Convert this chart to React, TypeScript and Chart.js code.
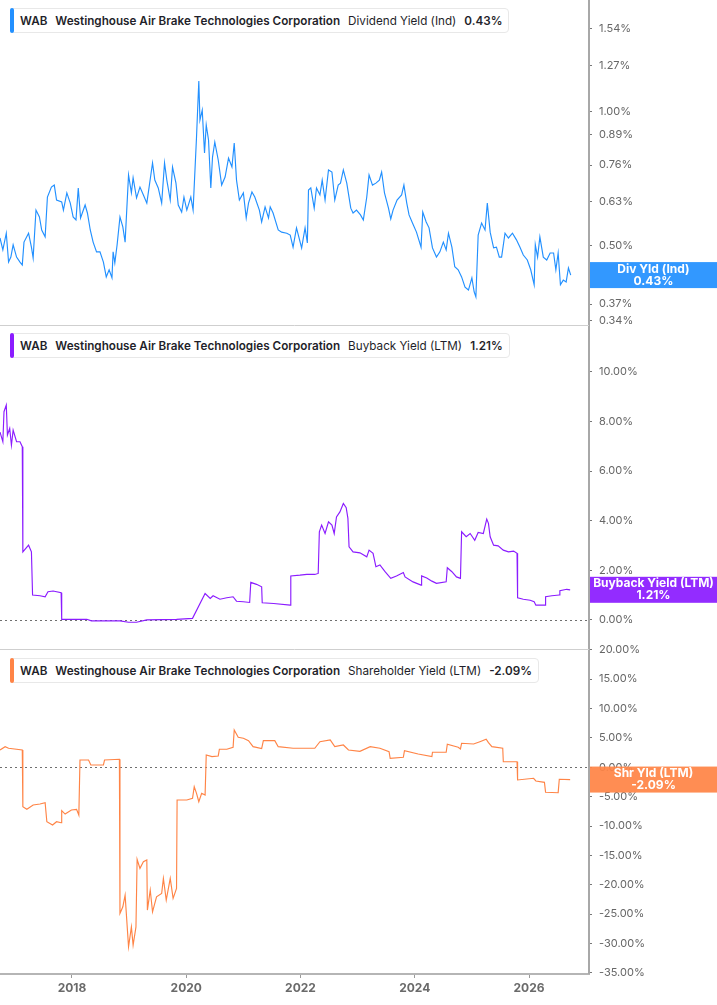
import { useEffect, useRef } from 'react';
import { Chart, registerables } from 'chart.js';

Chart.register(...registerables);
Chart.defaults.font.family = 'Inter, "Noto Sans", sans-serif';

// x axis (decimal years)
const xMin = 2016.74;
const xMax = 2027.05;
const yearTicks = [2018, 2020, 2022, 2024, 2026];

// Dividend yield (Ind), log scale
const divTicks = [0.34, 0.37, 0.5, 0.63, 0.76, 0.89, 1.0, 1.27, 1.54];
const divDates = [
  2016.74, 2016.79, 2016.85, 2016.89, 2016.93, 2016.97, 2017.03, 2017.09, 2017.13, 2017.16,
  2017.24, 2017.29, 2017.32, 2017.37, 2017.43, 2017.47, 2017.53, 2017.57, 2017.64, 2017.69,
  2017.73, 2017.82, 2017.85, 2017.91, 2017.97, 2018.02, 2018.07, 2018.11, 2018.15, 2018.23,
  2018.27, 2018.32, 2018.37, 2018.43, 2018.49, 2018.55, 2018.6, 2018.65, 2018.7, 2018.72,
  2018.75, 2018.79, 2018.84, 2018.89, 2018.93, 2018.99, 2019.04, 2019.07, 2019.13, 2019.19,
  2019.25, 2019.31, 2019.35, 2019.41, 2019.45, 2019.51, 2019.57, 2019.62, 2019.66, 2019.72,
  2019.76, 2019.82, 2019.86, 2019.92, 2019.96, 2020.01, 2020.08, 2020.12, 2020.18, 2020.22,
  2020.24, 2020.28, 2020.32, 2020.35, 2020.39, 2020.43, 2020.46, 2020.5, 2020.56, 2020.62,
  2020.68, 2020.74, 2020.8, 2020.84, 2020.88, 2020.93, 2021.0, 2021.05, 2021.09, 2021.15,
  2021.2, 2021.28, 2021.32, 2021.38, 2021.44, 2021.47, 2021.52, 2021.61, 2021.67, 2021.76,
  2021.82, 2021.87, 2021.93, 2022.02, 2022.08, 2022.12, 2022.14, 2022.18, 2022.24, 2022.28,
  2022.34, 2022.38, 2022.43, 2022.49, 2022.55, 2022.6, 2022.66, 2022.7, 2022.75, 2022.81,
  2022.88, 2022.92, 2022.98, 2023.05, 2023.1, 2023.16, 2023.2, 2023.26, 2023.32, 2023.38,
  2023.42, 2023.47, 2023.54, 2023.58, 2023.62, 2023.69, 2023.77, 2023.81, 2023.86, 2023.9,
  2023.96, 2024.03, 2024.11, 2024.14, 2024.2, 2024.25, 2024.31, 2024.38, 2024.44, 2024.5,
  2024.55, 2024.59, 2024.65, 2024.7, 2024.76, 2024.82, 2024.88, 2024.94, 2025.0, 2025.04,
  2025.07, 2025.11, 2025.17, 2025.23, 2025.27, 2025.32, 2025.38, 2025.43, 2025.48, 2025.52,
  2025.58, 2025.64, 2025.71, 2025.78, 2025.84, 2025.9, 2025.97, 2026.03, 2026.09, 2026.11,
  2026.15, 2026.19, 2026.25, 2026.31, 2026.37, 2026.43, 2026.47, 2026.51, 2026.55, 2026.6,
  2026.65, 2026.69, 2026.73,
];
const divValues = [
  0.521, 0.49, 0.534, 0.46, 0.472, 0.503, 0.472, 0.46, 0.453, 0.51,
  0.534, 0.497, 0.47, 0.602, 0.581, 0.543, 0.524, 0.644, 0.678, 0.685,
  0.634, 0.628, 0.602, 0.658, 0.624, 0.581, 0.572, 0.675, 0.578, 0.618,
  0.593, 0.543, 0.51, 0.485, 0.485, 0.46, 0.426, 0.442, 0.424, 0.485,
  0.458, 0.503, 0.581, 0.552, 0.51, 0.722, 0.658, 0.711, 0.641, 0.678,
  0.651, 0.624, 0.678, 0.768, 0.703, 0.675, 0.624, 0.768, 0.703, 0.634,
  0.752, 0.692, 0.618, 0.596, 0.644, 0.602, 0.644, 0.602, 0.879, 1.174,
  0.959, 1.01, 0.809, 0.935, 0.865, 0.675, 0.792, 0.856, 0.78, 0.685,
  0.714, 0.788, 0.752, 0.852, 0.703, 0.634, 0.658, 0.578, 0.624, 0.661,
  0.644, 0.602, 0.566, 0.612, 0.578, 0.612, 0.593, 0.543, 0.537, 0.534,
  0.529, 0.497, 0.549, 0.495, 0.549, 0.508, 0.668, 0.675, 0.608, 0.675,
  0.651, 0.703, 0.634, 0.741, 0.733, 0.634, 0.685, 0.692, 0.741, 0.692,
  0.608, 0.593, 0.602, 0.587, 0.572, 0.644, 0.722, 0.685, 0.692, 0.703,
  0.733, 0.658, 0.608, 0.575, 0.602, 0.634, 0.651, 0.685, 0.624, 0.587,
  0.563, 0.537, 0.497, 0.596, 0.566, 0.549, 0.495, 0.472, 0.485, 0.51,
  0.49, 0.534, 0.497, 0.449, 0.442, 0.426, 0.404, 0.398, 0.424, 0.394,
  0.384, 0.529, 0.563, 0.543, 0.624, 0.537, 0.495, 0.497, 0.472, 0.472,
  0.534, 0.521, 0.534, 0.516, 0.497, 0.477, 0.465, 0.442, 0.409, 0.503,
  0.472, 0.524, 0.472, 0.465, 0.482, 0.482, 0.442, 0.482, 0.409, 0.419,
  0.415, 0.446, 0.43,
];

// Buyback yield (LTM)
const buybackTicks = [0, 2, 4, 6, 8, 10];
const buybackDates = [
  2016.74, 2016.79, 2016.81, 2016.85, 2016.87, 2016.91, 2016.94, 2016.97, 2017.03, 2017.09,
  2017.13, 2017.14, 2017.24, 2017.29, 2017.31, 2017.44, 2017.53, 2017.58, 2017.67, 2017.81,
  2017.82, 2018.26, 2018.34, 2018.84, 2018.99, 2019.13, 2019.31, 2019.83, 2020.11, 2020.33,
  2020.42, 2020.47, 2020.59, 2020.71, 2020.82, 2020.88, 2021.0, 2021.11, 2021.13, 2021.23,
  2021.32, 2021.33, 2021.53, 2021.82, 2021.83, 2021.99, 2022.11, 2022.25, 2022.31, 2022.33,
  2022.37, 2022.43, 2022.49, 2022.55, 2022.59, 2022.63, 2022.69, 2022.75, 2022.8, 2022.83,
  2022.85, 2022.92, 2023.04, 2023.16, 2023.2, 2023.27, 2023.32, 2023.39, 2023.48, 2023.58,
  2023.68, 2023.8, 2023.83, 2023.97, 2024.11, 2024.12, 2024.21, 2024.3, 2024.38, 2024.55,
  2024.57, 2024.65, 2024.73, 2024.8, 2024.82, 2024.9, 2024.97, 2025.05, 2025.11, 2025.2,
  2025.26, 2025.29, 2025.32, 2025.38, 2025.46, 2025.55, 2025.64, 2025.73, 2025.79, 2025.8,
  2025.9, 2026.02, 2026.09, 2026.12, 2026.28, 2026.29, 2026.4, 2026.53, 2026.54, 2026.66,
  2026.72,
];
const buybackValues = [
  7.57, 7.18, 8.39, 8.66, 7.45, 7.72, 7.04, 7.65, 7.18, 7.18,
  6.98, 2.74, 3.01, 2.74, 1.0, 0.97, 0.93, 1.13, 1.16, 1.09,
  0.02, 0.02, -0.04, -0.04, -0.1, -0.1, 0.0, 0.02, 0.06, 1.06,
  0.86, 0.97, 0.83, 0.89, 0.93, 0.75, 0.73, 0.7, 1.51, 1.43,
  1.33, 0.69, 0.66, 0.59, 1.77, 1.8, 1.83, 1.83, 1.87, 3.55,
  3.82, 3.48, 3.95, 3.82, 3.48, 4.15, 4.35, 4.69, 4.52, 4.09,
  2.94, 2.74, 2.7, 2.54, 2.81, 2.68, 2.14, 2.21, 1.94, 1.67,
  1.77, 1.91, 1.73, 1.53, 1.4, 1.77, 1.69, 1.56, 1.47, 1.53,
  2.1, 1.94, 1.73, 1.67, 3.55, 3.35, 3.48, 3.21, 3.52, 3.48,
  4.06, 3.89, 3.35, 3.01, 2.98, 2.81, 2.74, 2.77, 2.68, 0.89,
  0.83, 0.79, 0.73, 0.59, 0.59, 0.93, 0.97, 1.0, 1.17, 1.23,
  1.21,
];

// Shareholder yield (LTM)
const shrTicks = [-35, -30, -25, -20, -15, -10, -5, 0, 5, 10, 15, 20];
const shrDates = [
  2016.74, 2016.83, 2016.89, 2017.13, 2017.14, 2017.21, 2017.32, 2017.44, 2017.53, 2017.56,
  2017.66, 2017.73, 2017.81, 2017.82, 2017.88, 2017.99, 2018.08, 2018.12, 2018.14, 2018.29,
  2018.33, 2018.55, 2018.57, 2018.83, 2018.84, 2018.89, 2018.93, 2018.99, 2019.04, 2019.07,
  2019.12, 2019.14, 2019.19, 2019.25, 2019.31, 2019.32, 2019.37, 2019.41, 2019.48, 2019.57,
  2019.6, 2019.65, 2019.72, 2019.77, 2019.83, 2019.84, 2020.01, 2020.11, 2020.14, 2020.18,
  2020.22, 2020.27, 2020.33, 2020.35, 2020.45, 2020.56, 2020.58, 2020.71, 2020.82, 2020.84,
  2020.91, 2021.0, 2021.09, 2021.17, 2021.32, 2021.35, 2021.55, 2021.61, 2021.87, 2022.11,
  2022.25, 2022.34, 2022.52, 2022.6, 2022.75, 2022.84, 2023.04, 2023.22, 2023.39, 2023.55,
  2023.57, 2023.8, 2023.82, 2024.06, 2024.3, 2024.31, 2024.55, 2024.57, 2024.76, 2024.8,
  2024.82, 2025.03, 2025.14, 2025.25, 2025.29, 2025.35, 2025.54, 2025.55, 2025.79, 2025.8,
  2026.08, 2026.12, 2026.27, 2026.29, 2026.51, 2026.53, 2026.72,
];
const shrValues = [
  2.95, 3.51, 3.24, 2.95, -6.71, -7.16, -6.42, -6.25, -6.03, -9.27,
  -9.83, -9.27, -9.44, -7.39, -7.96, -7.27, -7.16, -8.13, 1.24, 1.24,
  0.39, 0.39, 1.24, 1.36, -24.87, -23.75, -21.76, -30.56, -27.16, -30.27,
  -27.16, -15.67, -17.21, -16.08, -15.79, -24.31, -20.9, -24.6, -22.04, -21.47,
  -18.91, -22.61, -18.91, -22.32, -20.61, -5.57, -5.57, -5.28, -3.3, -4.43,
  -5.86, -4.43, -4.72, 2.1, 1.81, 1.93, 3.07, 3.07, 3.41, 6.35,
  5.11, 4.94, 4.53, 3.51, 3.17, 4.53, 4.53, 3.51, 3.24, 3.24,
  3.24, 4.36, 4.65, 3.51, 3.8, 2.95, 2.72, 3.51, 3.24, 2.66,
  1.53, 1.7, 2.83, 2.27, 1.81, 2.56, 2.56, 3.92, 3.41, 3.12,
  4.09, 3.97, 4.36, 4.77, 4.19, 3.51, 3.24, 0.95, 0.95, -2.16,
  -1.87, -2.33, -2.56, -4.26, -4.33, -2.04, -2.09,
];

const BLUE = '#2290ff';
const PURPLE = '#8b1cff';
const ORANGE = '#ff8446';

const panels = [
  { id: 'yDiv', color: BLUE, series: 'Dividend Yield (Ind)', tag: 'Div Yld (Ind)', values: divValues },
  { id: 'yBuy', color: PURPLE, series: 'Buyback Yield (LTM)', tag: 'Buyback Yield (LTM)', values: buybackValues },
  { id: 'yShr', color: ORANGE, series: 'Shareholder Yield (LTM)', tag: 'Shr Yld (LTM)', values: shrValues },
];

const fmtPct = (v: number) => v.toFixed(2) + '%';

const overlayPlugin = {
  id: 'overlay',
  beforeDatasetsDraw(chart: any) {
    const { ctx, chartArea, scales } = chart;
    ctx.save();
    // panel separators
    ctx.strokeStyle = '#cfcfcf';
    ctx.lineWidth = 1;
    [scales.yDiv.bottom, scales.yBuy.bottom].forEach((y: number) => {
      ctx.beginPath();
      ctx.moveTo(chartArea.left, Math.round(y) + 0.5);
      ctx.lineTo(chartArea.right, Math.round(y) + 0.5);
      ctx.stroke();
    });
    // dotted zero lines
    ctx.strokeStyle = '#6f6f6f';
    ctx.setLineDash([2, 3]);
    ['yBuy', 'yShr'].forEach((id) => {
      const y = Math.round(scales[id].getPixelForValue(0)) + 0.5;
      ctx.beginPath();
      ctx.moveTo(chartArea.left, y);
      ctx.lineTo(chartArea.right, y);
      ctx.stroke();
    });
    ctx.restore();
  },
  afterDraw(chart: any) {
    const { ctx, chartArea, scales, width } = chart;
    ctx.save();
    panels.forEach((p) => {
      const last = p.values[p.values.length - 1];
      const yc = scales[p.id].getPixelForValue(last);
      const x0 = chartArea.right + 1;
      ctx.globalAlpha = 0.93;
      ctx.fillStyle = p.color;
      ctx.fillRect(x0, yc - 13, width - x0, 26);
      ctx.globalAlpha = 1;
      ctx.fillStyle = '#ffffff';
      ctx.font = 'bold 12px Inter, "Noto Sans", sans-serif';
      ctx.textAlign = 'center';
      ctx.textBaseline = 'middle';
      const xc = (x0 + width) / 2;
      ctx.fillText(p.tag, xc, yc - 6);
      ctx.fillText(fmtPct(last), xc, yc + 6);
    });
    ctx.restore();
  },
};

function yScale(ticks: number[], extra: any) {
  return {
    position: 'right',
    stack: 'panels',
    stackWeight: 1,
    bounds: 'data',
    afterBuildTicks: (s: any) => {
      s.ticks = ticks.map((v) => ({ value: v }));
    },
    afterFit: (s: any) => {
      s.width = 128;
      s.paddingTop = 0;
      s.paddingBottom = 0;
    },
    grid: { drawOnChartArea: false, drawTicks: true, tickLength: 3, tickColor: '#777' },
    border: { color: '#a8a8a8', width: 2 },
    ticks: {
      color: '#666',
      padding: 7,
      autoSkip: false,
      font: { size: 11 },
      callback: (v: any) => fmtPct(Number(v)),
    },
    ...extra,
  };
}

function Legend({ top, color, series, value }: any) {
  return (
    <div
      style={{
        position: 'absolute',
        left: 10,
        top,
        height: 25,
        boxSizing: 'border-box',
        border: '1px solid #e8e8e8',
        borderRadius: 4,
        background: '#fff',
        display: 'flex',
        alignItems: 'center',
        paddingLeft: 9,
        paddingRight: 6,
        fontFamily: 'Inter, "Noto Sans", sans-serif',
        fontSize: 11.7,
        color: '#1f1f2a',
        whiteSpace: 'nowrap',
      }}
    >
      <div style={{ position: 'absolute', left: -1, top: -1, bottom: -1, width: 4, background: color, borderRadius: 2 }} />
      <span style={{ fontWeight: 600, marginRight: 8 }}>WAB</span>
      <span style={{ fontWeight: 600, marginRight: 8 }}>Westinghouse Air Brake Technologies Corporation</span>
      <span style={{ fontWeight: 400, marginRight: 8 }}>{series}</span>
      <span style={{ fontWeight: 600 }}>{value}</span>
    </div>
  );
}

export default function App() {
  const canvasRef = useRef<HTMLCanvasElement>(null);

  useEffect(() => {
    document.body.style.margin = '0';
    const ctx = canvasRef.current?.getContext('2d');
    if (!ctx) return;
    const toPoints = (xs: number[], ys: number[]) => xs.map((x, i) => ({ x, y: ys[i] }));
    const chart = new Chart(ctx, {
      type: 'line',
      data: {
        datasets: [
          { label: 'Dividend Yield (Ind)', data: toPoints(divDates, divValues), yAxisID: 'yDiv', borderColor: BLUE },
          { label: 'Buyback Yield (LTM)', data: toPoints(buybackDates, buybackValues), yAxisID: 'yBuy', borderColor: PURPLE },
          { label: 'Shareholder Yield (LTM)', data: toPoints(shrDates, shrValues), yAxisID: 'yShr', borderColor: ORANGE },
        ],
      },
      options: {
        responsive: false,
        animation: false,
        layout: { padding: 0 },
        elements: {
          point: { radius: 0 },
          line: { borderWidth: 1.15, tension: 0 },
        },
        plugins: { legend: { display: false }, tooltip: { enabled: false } },
        scales: {
          x: {
            type: 'linear',
            position: 'bottom',
            min: xMin,
            max: xMax,
            afterBuildTicks: (s: any) => {
              s.ticks = yearTicks.map((v) => ({ value: v }));
            },
            afterFit: (s: any) => {
              s.height = 31;
              s.paddingLeft = 0;
              s.paddingRight = 0;
            },
            grid: { drawOnChartArea: false, drawTicks: true, tickLength: 4, tickColor: '#9a9a9a' },
            border: { color: '#b5b5b5', width: 2 },
            ticks: {
              color: '#6a6a6a',
              padding: 3,
              maxRotation: 0,
              autoSkip: false,
              font: { size: 12, weight: 'bold' },
              callback: (v: any) => String(v),
            },
          },
          yDiv: yScale(divTicks, { type: 'logarithmic', min: 0.3327, max: 1.785 }),
          yBuy: yScale(buybackTicks, { type: 'linear', min: -1.19, max: 11.9 }),
          yShr: yScale(shrTicks, { type: 'linear', min: -35.19, max: 20.08 }),
        },
      } as any,
      plugins: [overlayPlugin],
    });
    return () => chart.destroy();
  }, []);

  return (
    <div style={{ position: 'relative', width: 717, height: 1005, background: '#fff' }}>
      <canvas ref={canvasRef} width={717} height={1005} style={{ display: 'block' }} />
      <Legend top={8} color={BLUE} series={panels[0].series} value={fmtPct(divValues[divValues.length - 1])} />
      <Legend top={333} color={PURPLE} series={panels[1].series} value={fmtPct(buybackValues[buybackValues.length - 1])} />
      <Legend top={658} color={ORANGE} series={panels[2].series} value={fmtPct(shrValues[shrValues.length - 1])} />
    </div>
  );
}
